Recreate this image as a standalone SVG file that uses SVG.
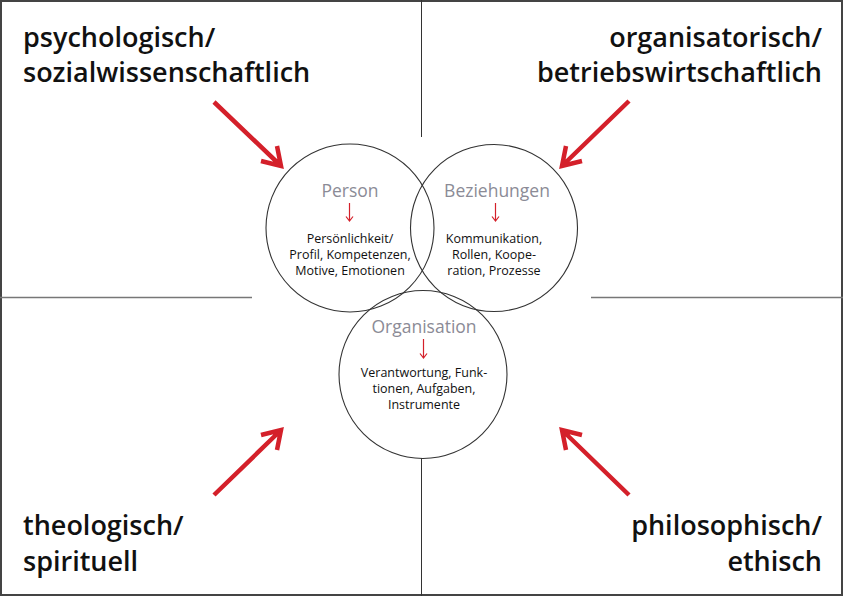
<svg xmlns="http://www.w3.org/2000/svg" width="843" height="596" viewBox="0 0 843 596">
<defs>
<style>
.frame{fill:#fff;stroke:#444;stroke-width:2}
.div{stroke:#333;stroke-width:1;fill:none}
.divg{stroke:#777;stroke-width:1.3;fill:none}
.circ{fill:none;stroke:#333;stroke-width:1.1}
.head{font-family:"Open Sans","Noto Sans",sans-serif;font-weight:600;font-size:27px;fill:#111}
.title{font-family:"Open Sans","Noto Sans",sans-serif;font-size:17.5px;fill:#8b8b96;text-anchor:middle}
.body{font-family:"Open Sans","Noto Sans",sans-serif;font-size:12.5px;fill:#111;text-anchor:middle}
.big{stroke:#d4202a;stroke-width:4.5;fill:none}
.small{stroke:#d4202a;stroke-width:1.2;fill:none}
</style>
</defs>
<rect class="frame" x="1" y="1" width="841" height="594"/>
<g id="dividers">
<line class="div" x1="421.5" y1="0" x2="421.5" y2="137"/>
<line class="div" x1="421.5" y1="458" x2="421.5" y2="596"/>
<line class="divg" x1="0" y1="297.5" x2="252" y2="297.5"/>
<line class="divg" x1="591" y1="297.5" x2="843" y2="297.5"/>
</g>
<g id="labels">
<g id="q-tl"><text class="head" x="23" y="47">psychologisch/</text><text class="head" x="23" y="82">sozialwissenschaftlich</text></g>
<g id="q-tr"><text class="head" x="822" y="47" text-anchor="end">organisatorisch/</text><text class="head" x="822" y="82" text-anchor="end">betriebswirtschaftlich</text></g>
<g id="q-bl"><text class="head" x="23" y="535">theologisch/</text><text class="head" x="23" y="571">spirituell</text></g>
<g id="q-br"><text class="head" x="822" y="535" text-anchor="end">philosophisch/</text><text class="head" x="822" y="571" text-anchor="end">ethisch</text></g>
</g>
<g id="connectors">
<path class="big" d="M214,102 L280,165 M261,161 L281,166 L277,146"/>
<path class="big" d="M629,101 L563,165 M566,146 L562,166 L582,161"/>
<path class="big" d="M214,495 L280,431 M261,435 L281,430 L277,450"/>
<path class="big" d="M629,495 L563,431 M566,450 L562,430 L582,435"/>
</g>
<g id="person">
<circle class="circ" cx="350" cy="228" r="84"/>
</g>
<g id="beziehungen">
<circle class="circ" cx="494" cy="228" r="83.5"/>
</g>
<g id="organisation">
<circle class="circ" cx="423" cy="374.5" r="84"/>
</g>
<g id="person-text">
<text class="title" x="350" y="197">Person</text>
<path class="small" d="M349.5,203 V221 M346,216.5 L349.5,221 L353,216.5"/>
<text class="body" x="350" y="243">Persönlichkeit/</text>
<text class="body" x="350" y="259">Profil, Kompetenzen,</text>
<text class="body" x="350" y="275">Motive, Emotionen</text>
</g>
<g id="beziehungen-text">
<text class="title" x="497" y="197">Beziehungen</text>
<path class="small" d="M495.5,203 V221 M492,216.5 L495.5,221 L499,216.5"/>
<text class="body" x="494" y="243">Kommunikation,</text>
<text class="body" x="494" y="259">Rollen, Koope-</text>
<text class="body" x="494" y="275">ration, Prozesse</text>
</g>
<g id="organisation-text">
<text class="title" x="424" y="333">Organisation</text>
<path class="small" d="M423.5,339 V358 M420,353.5 L423.5,358 L427,353.5"/>
<text class="body" x="424" y="377">Verantwortung, Funk-</text>
<text class="body" x="424" y="393">tionen, Aufgaben,</text>
<text class="body" x="424" y="409">Instrumente</text>
</g>
</svg>
